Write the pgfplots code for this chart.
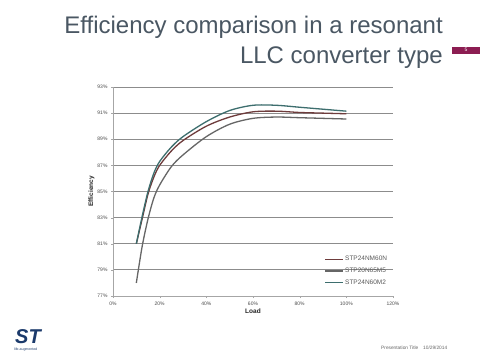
\documentclass[border=0pt]{standalone}
\usepackage{pgfplots}
\pgfplotsset{compat=1.18}
\usepackage{fontspec}
\setmainfont{Liberation Sans}
\definecolor{titlec}{HTML}{4A5763}
\definecolor{cB}{HTML}{666666}
\definecolor{cC}{HTML}{3D6E6E}
\definecolor{redc}{HTML}{6E3C3C}
\definecolor{pagec}{HTML}{8C1D52}
\definecolor{stblue}{HTML}{1B3A6B}
\begin{document}
\begin{tikzpicture}
\path[fill=white] (0pt,0pt) rectangle (480pt,360pt);
% title
\node[anchor=base east, text=titlec, font=\fontsize{24}{28}\selectfont, inner sep=0pt] at (443pt,327pt) {Efficiency comparison in a resonant};
\node[anchor=base east, text=titlec, font=\fontsize{24}{28}\selectfont, inner sep=0pt] at (443pt,297pt) {LLC converter type};
\fill[pagec] (452pt,306.5pt) rectangle (480pt,313.5pt);
\node[text=white, font=\fontsize{5}{6}\selectfont, inner sep=0pt] at (466pt,310pt) {5};
% footer
\node[anchor=base west, text=gray!80!black, font=\fontsize{4.8}{5}\selectfont, inner sep=0pt] at (381pt,11pt) {Presentation Title\quad 10/29/2014};
\node[anchor=south west, text=stblue, font=\fontsize{20}{20}\selectfont\bfseries\itshape, inner sep=0pt] at (15pt,16pt) {ST};
\node[anchor=base west, text=stblue, font=\fontsize{3.5}{4}\selectfont, inner sep=0pt] at (14pt,10pt) {life.augmented};
\begin{axis}[
  at={(113pt,64pt)}, anchor=south west,
  scale only axis, width=280pt, height=209pt,
  xmin=0, xmax=120, ymin=77, ymax=93,
  xtick={0,20,...,120}, ytick={77,79,...,93},
  axis x line=bottom, axis y line=left,
  axis line style={gray!70, -},
  tick style={gray!70}, tick align=outside,
  major tick length=2pt,
  ymajorgrids, grid style={black!45, line width=0.8pt},
  xticklabel={\pgfmathprintnumber{\tick}\%},
  yticklabel={\pgfmathprintnumber{\tick}\%},
  /pgf/number format/assume math mode=true,
  ticklabel style={font=\fontsize{5}{6}\selectfont, text=black!70},
  xlabel={\textbf{Load}}, ylabel={\textbf{Efficiency}},
  label style={font=\fontsize{6.5}{7}\selectfont, text=black!85},
  xlabel style={yshift=3pt}, ylabel style={yshift=-4pt},
  legend style={at={(0.745,0.03)}, anchor=south west, draw=none, fill=none,
    font=\fontsize{6.5}{7}\selectfont, text=black!65, row sep=1.5pt},
  legend cell align=left,
  every axis plot/.append style={line width=1.3pt, smooth},
]
\addplot[color=redc] coordinates {(10,81.0) (12.5,82.9) (15,84.8) (17.5,86.1) (20,87.0) (25,88.1) (30,88.9) (40,90.0) (50,90.7) (60,91.1) (70,91.15) (80,91.05) (90,91.0) (100,90.95)};
\addlegendentry{STP24NM60N}
\addplot[color=cB] coordinates {(10,78.0) (12.5,80.8) (15,82.9) (17.5,84.5) (20,85.5) (25,86.9) (30,87.8) (40,89.2) (50,90.15) (60,90.6) (70,90.7) (80,90.65) (90,90.6) (100,90.55)};
\addlegendentry{STP20N65M5}
\addplot[color=cC] coordinates {(10,81.0) (12.5,83.1) (15,85.0) (17.5,86.4) (20,87.3) (25,88.4) (30,89.2) (40,90.35) (50,91.2) (60,91.6) (70,91.6) (80,91.45) (90,91.3) (100,91.15)};
\addlegendentry{STP24N60M2}
\end{axis}
\end{tikzpicture}
\end{document}
